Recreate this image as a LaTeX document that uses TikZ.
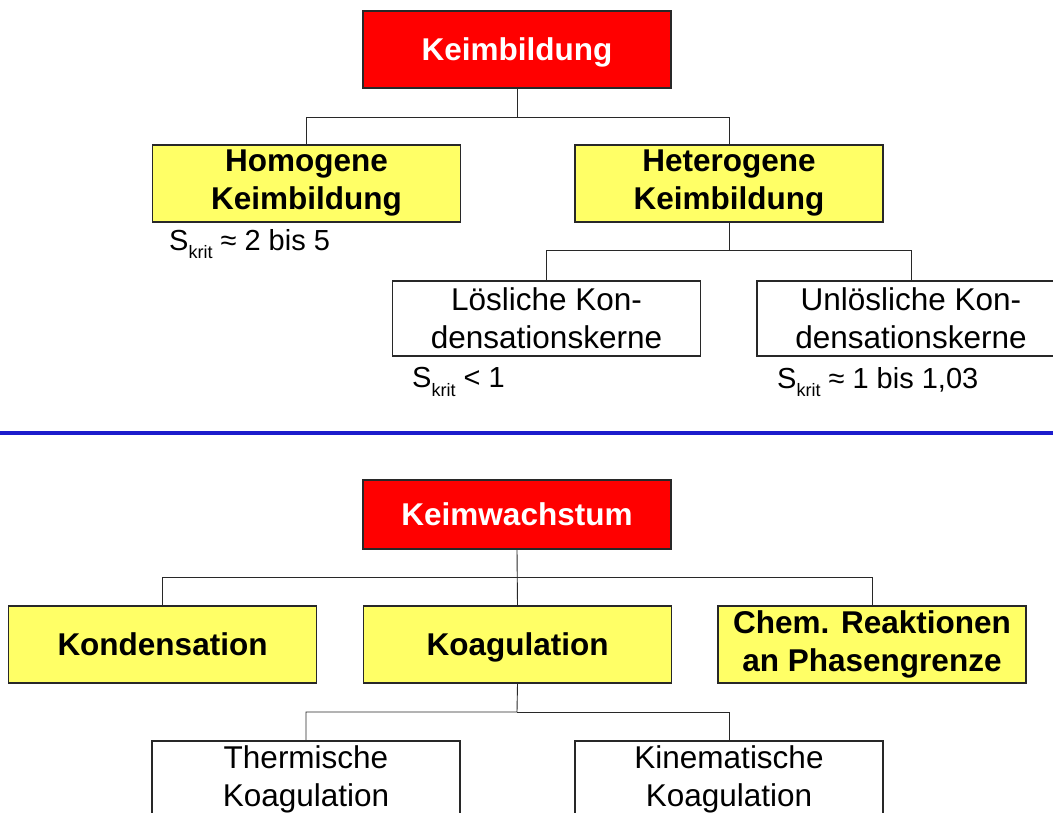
\documentclass[tikz,border=0pt]{standalone}
\usepackage{fontspec}
\setmainfont{Liberation Sans}
\definecolor{headred}{RGB}{255,0,0}
\definecolor{boxyellow}{RGB}{255,255,102}
\definecolor{rulerblue}{RGB}{28,28,204}
\definecolor{edgegray}{RGB}{40,40,40}
\newcommand{\skrit}{S\raisebox{-0.28em}{\fontsize{18}{18}\selectfont krit}}
\tikzset{
  box/.style={draw=edgegray, line width=1.3pt, minimum width=308pt, minimum height=77pt,
    inner sep=0pt, align=center, font=\fontsize{31.5}{38}\selectfont},
  single/.style={text height=26pt, text depth=4pt},
  redbox/.style={box, fill=headred, text=white, font=\fontsize{31.5}{38}\selectfont\bfseries},
  yellowbox/.style={box, fill=boxyellow, font=\fontsize{31.5}{38}\selectfont\bfseries},
  plainbox/.style={box, fill=white},
  conn/.style={draw=edgegray, line width=0.9pt},
  note/.style={anchor=west, inner sep=0pt, font=\fontsize{29}{31}\selectfont}
}
\begin{document}
\begin{tikzpicture}[x=1pt, y=-1pt]
\useasboundingbox (0,0) rectangle (1053,813);
\clip (0,0) rectangle (1053,813);
\fill[white] (0,0) rectangle (1053,813);

% --- Keimbildung ---
\node[redbox, single] (kb) at (517,49.5) {Keimbildung};
\node[yellowbox] (hom) at (306.5,183.5) {Homogene\\Keimbildung};
\node[yellowbox] (het) at (729,183.5) {Heterogene\\Keimbildung};
\node[plainbox, minimum height=75pt] (loes) at (546.5,318.5) {L\"osliche Kon-\\densationskerne};
\node[plainbox, minimum height=75pt] (unl) at (911,318.5) {Unl\"osliche Kon-\\densationskerne};

\node[note] (n1) at (169,244) {\skrit{} \char"2248{} 2 bis 5};
\node[note] (n2) at (412,382) {\skrit{} < 1};
\node[note] (n3) at (777,382) {\skrit{} \char"2248{} 1 bis 1,03};

\coordinate (j1) at (517,117);
\coordinate (j2) at (729,250);
\draw[conn] (kb.south) -- (j1) -| (hom.north);
\draw[conn] (j1) -| (het.north);
\draw[conn] (het.south) -- (j2) -| (loes.north);
\draw[conn] (j2) -| (unl.north);

% --- separator ---
\coordinate (sl) at (0,433);
\coordinate (sr) at (1053,433);
\draw[rulerblue, line width=4pt] (sl) -- (sr);

% --- Keimwachstum ---
\node[redbox, single, minimum height=69pt] (kw) at (517,514.5) {Keimwachstum};
\node[yellowbox, single] (kond) at (162.5,644.5) {Kondensation};
\node[yellowbox, single] (koag) at (517.5,644.5) {Koagulation};
\node[yellowbox] (chem) at (872,644.5) {Chem. Reaktionen\\an Phasengrenze};
\node[plainbox] (therm) at (306,779.5) {Thermische\\Koagulation};
\node[plainbox] (kine) at (729,779.5) {Kinematische\\Koagulation};

\coordinate (j3) at (517,577);
\coordinate (j4) at (517,712);
\draw[conn] (kw.south) -- (koag.north);
\draw[conn] (j3) -| (kond.north);
\draw[conn] (j3) -| (chem.north);
\draw[conn] (koag.south) -- (j4) -| (therm.north);
\draw[conn] (j4) -| (kine.north);
\end{tikzpicture}
\end{document}
